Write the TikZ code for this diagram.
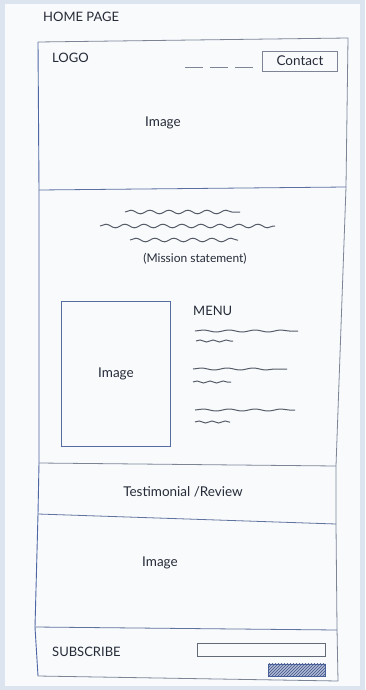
\documentclass[tikz,border=0pt]{standalone}
\usepackage{fontspec}
\setmainfont{Lato}
\usetikzlibrary{decorations.pathmorphing,patterns}
\definecolor{deskblue}{HTML}{DCE5EF}
\definecolor{paper}{HTML}{F8FAFC}
\definecolor{pencil}{HTML}{7C8496}
\definecolor{inkblue}{HTML}{4E66A4}
\definecolor{ink}{HTML}{262B38}

\begin{document}
\begin{tikzpicture}[
  x=1pt,y=-1pt,
  line/.style={draw=pencil,line width=0.8pt,line join=round},
  blueline/.style={draw=inkblue,line width=0.9pt},
  wave/.style={draw=pencil!70!black,line width=1pt,decorate,decoration={snake,amplitude=1.8pt,segment length=19pt}},
  menuwave/.style={wave,decoration={amplitude=1pt,segment length=26pt}},
  lbl/.style={text=ink,inner sep=0pt,font=\fontsize{13.5}{15}\selectfont},
  caps/.style={lbl,font=\fontsize{13}{15}\selectfont}
]
% desk and sheet
\fill[deskblue] (0,0) rectangle (365,690);
\fill[paper] (5,4) rectangle (360,686);
\useasboundingbox (0,0) rectangle (365,690);

\node[caps,anchor=west] (title) at (43,17) {HOME PAGE};

% page frame
\draw[line] (38,42) -- (348,38) -- (346,187) -- (336,466) -- (336,524) -- (337,628) -- (338,681) -- (38,676);
\draw[blueline] (38,42) -- (39,190) -- (39,463) -- (38,514) -- (35,627) -- (38,676);

% section dividers
\draw[line,draw=inkblue!70!pencil] (39,190) -- (346,187);
\draw[line] (39,463) -- (336,466);
\draw[line,draw=inkblue!60!pencil] (38,514) -- (336,524);
\draw[line,draw=inkblue!60!pencil] (35,627) -- (337,630);

% header
\node[caps,anchor=west] (logo) at (52,58) {LOGO};
\draw[line,dash pattern=on 18pt off 7pt] (185,67) -- (256,67);
\node[lbl,draw=pencil,line width=0.8pt,minimum width=75pt,minimum height=20pt] (contact) at (300,61) {Contact};
\node[lbl] (hero) at (163,123) {Image};

% mission statement
\draw[wave] (125,212) -- (240,212);
\draw[wave] (100,226) -- (275,226);
\draw[wave] (130,240) -- (238,240);
\node[lbl,font=\fontsize{12}{14}\selectfont] (mission) at (195,259) {(Mission statement)};

% image and menu
\node[lbl,draw=inkblue!80!pencil,line width=0.8pt,minimum width=109pt,minimum height=145pt] (sideimg) at (116,374) {Image};
\node[caps,anchor=west] (menu) at (193,311) {MENU};
\draw[menuwave] (195,331) -- (298,331);
\draw[menuwave,decoration={segment length=13pt}] (196,341) -- (233,341);
\draw[menuwave] (193,369) -- (287,369);
\draw[menuwave,decoration={segment length=13pt}] (193,382) -- (231,382);
\draw[menuwave] (195,410) -- (295,410);
\draw[menuwave,decoration={segment length=13pt}] (195,422) -- (230,422);

% testimonial and banner
\node[lbl] (review) at (183,492) {Testimonial /Review};
\node[lbl] (banner) at (160,563) {Image};

% subscribe bar
\node[caps,anchor=west] (subscribe) at (52,652) {SUBSCRIBE};
\node[draw=pencil!80!black,line width=0.8pt,minimum width=128pt,minimum height=13pt,inner sep=0pt] (email) at (261,650) {};
\node[draw=inkblue,line width=0.8pt,fill=inkblue!45,minimum width=57pt,minimum height=12pt,inner sep=0pt] (send) at (297,670) {};
\fill[pattern=north east lines,pattern color=inkblue!80!black] (send.south west) rectangle (send.north east);
\end{tikzpicture}
\end{document}
